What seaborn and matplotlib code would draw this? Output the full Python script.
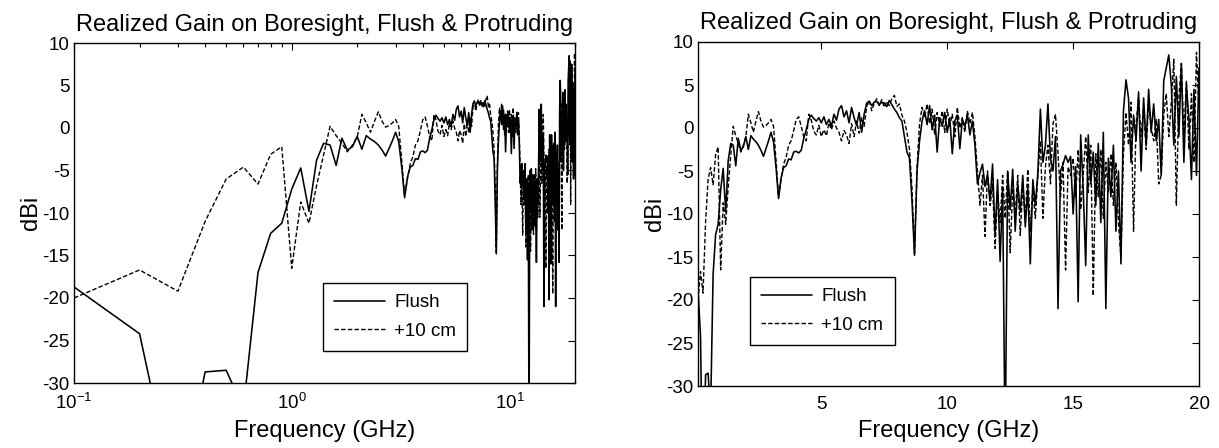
import matplotlib
matplotlib.use("Agg")
import matplotlib.pyplot as plt
import seaborn as sns
import pandas as pd

# ---------------- data ----------------
freq_ghz = [
    0.1, 0.2, 0.3, 0.4, 0.5, 0.6, 0.7, 0.8, 0.9, 1.0,
    1.1, 1.2, 1.3, 1.4, 1.5, 1.6, 1.7, 1.8, 1.9, 2.0,
    2.1, 2.2, 2.3, 2.4, 2.5, 2.6, 2.7, 2.8, 2.9, 3.0,
    3.1, 3.2, 3.3, 3.4, 3.5, 3.6, 3.7, 3.8, 3.9, 4.0,
    4.1, 4.2, 4.3, 4.4, 4.5, 4.6, 4.7, 4.8, 4.9, 5.0,
    5.1, 5.2, 5.3, 5.4, 5.5, 5.6, 5.7, 5.8, 5.9, 6.0,
    6.1, 6.2, 6.3, 6.4, 6.5, 6.6, 6.7, 6.8, 6.9, 7.0,
    7.1, 7.2, 7.3, 7.4, 7.5, 7.6, 7.7, 7.8, 7.9, 8.0,
    8.1, 8.2, 8.3, 8.4, 8.5, 8.6, 8.7, 8.8, 8.9, 9.0,
    9.1, 9.2, 9.3, 9.4, 9.5, 9.6, 9.7, 9.8, 9.9, 10.0,
    10.1, 10.2, 10.3, 10.4, 10.5, 10.6, 10.7, 10.8, 10.9, 11.0,
    11.1, 11.2, 11.3, 11.4, 11.5, 11.6, 11.7, 11.8, 11.9, 12.0,
    12.1, 12.2, 12.3, 12.4, 12.5, 12.6, 12.7, 12.8, 12.9, 13.0,
    13.1, 13.2, 13.3, 13.4, 13.5, 13.6, 13.7, 13.8, 13.9, 14.0,
    14.1, 14.2, 14.3, 14.4, 14.5, 14.6, 14.7, 14.8, 14.9, 15.0,
    15.1, 15.2, 15.3, 15.4, 15.5, 15.6, 15.7, 15.8, 15.9, 16.0,
    16.1, 16.2, 16.3, 16.4, 16.5, 16.6, 16.7, 16.8, 16.9, 17.0,
    17.1, 17.2, 17.3, 17.4, 17.5, 17.6, 17.7, 17.8, 17.9, 18.0,
    18.1, 18.2, 18.3, 18.4, 18.5, 18.6, 18.7, 18.8, 18.9, 19.0,
    19.1, 19.2, 19.3, 19.4, 19.5, 19.6, 19.7, 19.8, 19.9, 20.0,
]

gain_flush = [
    -18.7, -24.2, -45.0, -28.7, -28.5, -33.0, -17.0, -12.4, -11.2, -7.2,
    -4.7, -9.8, -3.8, -1.8, -2.0, -4.4, -1.2, -2.6, -2.2, -1.0,
    -2.5, -0.9, -1.3, -1.6, -2.0, -2.6, -3.3, -2.4, -1.5, -0.5,
    -1.6, -4.6, -8.2, -5.8, -4.6, -4.4, -3.6, -3.7, -2.8, -2.7,
    -2.9, -2.6, -1.2, -0.2, 1.0, 1.5, 1.1, 0.8, 1.2, 0.6,
    1.3, 0.4, 1.0, 0.2, 1.6, 0.9, 2.2, 2.6, 1.3, 2.0,
    0.6, 2.4, 1.2, 0.3, 1.8, -0.5, 1.6, 2.9, 3.1, 2.6,
    3.0, 3.1, 2.7, 3.0, 2.9, 2.5, 3.2, 2.7, 2.2, 1.8,
    1.2, 0.8, -1.0, -2.8, -3.5, -8.5, -14.8, -5.0, -1.5, 0.8,
    2.0, 0.4, 2.6, -0.2, 1.5, -2.8, 1.2, 0.2, 1.8, -0.5,
    1.2, -3.0, 0.8, 1.5, -2.4, 1.0, 0.2, 1.5, -0.8, 0.8,
    -2.0, -6.5, -5.2, -4.2, -6.8, -5.4, -8.5, -4.2, -12.5, -6.0,
    -15.5, -7.0, -38.0, -5.0, -9.5, -4.8, -12.0, -6.5, -9.8, -5.5,
    -11.5, -7.0, -15.8, -6.0, -9.0, -5.2, 2.2, -4.0, -2.0, 2.8,
    -3.5, -5.0, -1.0, -21.0, -5.0, -4.2, -3.2, -4.0, -3.3, -10.0,
    -4.5, -20.2, -0.8, -7.0, -16.0, -0.8, -6.5, -2.8, -9.0, -1.8,
    -11.0, -0.5, -21.0, -3.5, -8.0, -2.0, -12.0, -5.0, -15.8, 2.0,
    5.6, 3.5, -4.0, 1.5, -1.5, 4.2, -5.0, 3.5, -2.0, 4.5,
    -0.5, 2.8, -1.5, 1.0, -5.5, 5.5, 7.0, 8.5, 5.0, -2.0,
    6.0, -1.0, 7.5, -4.0, 5.0, 1.0, -6.0, 4.5, -5.5, 7.0,
]

gain_protruding = [
    -20.0, -16.7, -19.2, -11.0, -6.0, -4.6, -6.6, -3.1, -2.2, -16.5,
    -8.7, -11.2, -6.8, -3.2, 0.2, -0.9, -1.8, -2.8, -2.0, -1.0,
    1.6, 0.6, -0.5, 0.8, 1.9, 0.8, 0.1, 0.3, 0.6, 1.0,
    0.2, -3.8, -8.0, -6.0, -4.2, -3.4, -2.0, -1.5, -0.3, 1.0,
    1.3, 0.2, -1.0, -1.5, 1.6, 0.9, -0.4, -0.8, 0.3, -1.0,
    -0.2, -0.9, 0.6, -0.2, 0.8, 0.0, -0.5, -1.5, -0.3, -0.8,
    -1.8, 0.5, -1.0, 0.8, -0.6, 1.2, 0.2, 2.5, 3.2, 2.0,
    2.9, 3.4, 2.6, 3.3, 2.4, 3.1, 2.6, 3.4, 3.8, 2.5,
    2.8, 1.5, 0.8, -0.5, -2.5, -7.0, -14.6, -4.5, 0.5, 2.4,
    1.2, 2.8, 0.5, 2.2, -0.8, 1.8, 0.2, 2.0, -0.5, 2.2,
    0.2, 1.6, -1.0, 2.4, 0.0, 1.2, -0.5, 2.0, 0.5, 1.8,
    -1.0, -5.0, -9.0, -5.5, -12.6, -5.0, -9.0, -6.5, -14.0, -7.5,
    -11.0, -5.5, -10.5, -5.0, -14.5, -7.0, -10.0, -5.5, -12.5, -6.5,
    -10.5, -4.8, -12.0, -7.0, -10.5, -5.5, -1.5, -10.5, -4.5, -2.0,
    -6.5, 0.5, 1.6, -3.0, -8.0, -4.0, -16.5, -4.5, -5.5, -3.5,
    -8.0, -2.5, -9.5, -5.5, -1.0, -7.5, -2.0, -19.5, -3.0, -8.0,
    -2.5, -10.5, -4.0, -7.5, -3.0, -9.0, -4.0, -11.0, -15.0, -3.0,
    1.8, -2.0, 3.0, -12.0, 0.5, 3.5, -1.0, 2.5, -2.5, 3.0,
    0.0, -1.5, 1.0, -6.5, -5.5, 1.5, 4.0, -1.0, 3.0, 8.0,
    -9.0, 3.5, 7.5, -1.0, 5.5, -2.5, 4.0, -4.0, 8.8, 2.0,
]

series_labels = ["Flush", "+10 cm"]
title_text = "Realized Gain on Boresight, Flush & Protruding"
x_label = "Frequency (GHz)"
y_label = "dBi"
y_ticks = [-30, -25, -20, -15, -10, -5, 0, 5, 10]
lin_x_ticks = [5, 10, 15, 20]

# ---------------- styling ----------------
sns.set_style("white")
plt.rcParams["font.family"] = ["Liberation Sans", "DejaVu Sans"]
plt.rcParams["mathtext.fontset"] = "custom"
plt.rcParams["mathtext.rm"] = "Liberation Sans"
plt.rcParams["mathtext.it"] = "Liberation Sans"
plt.rcParams["axes.unicode_minus"] = False
plt.rcParams["text.color"] = "black"
plt.rcParams["axes.labelcolor"] = "black"
plt.rcParams["xtick.color"] = "black"
plt.rcParams["ytick.color"] = "black"

W, H = 1219, 448
fig = plt.figure(figsize=(W / 100, H / 100), dpi=100)
fig.patch.set_facecolor("white")

ax_log = fig.add_axes([74 / W, 1 - 383 / H, (575 - 74) / W, (383 - 43) / H])
ax_lin = fig.add_axes([698 / W, 1 - 386 / H, (1199 - 698) / W, (386 - 42) / H])

df = pd.DataFrame({
    "freq": freq_ghz * 2,
    "gain": gain_flush + gain_protruding,
    "series": [series_labels[0]] * len(freq_ghz) + [series_labels[1]] * len(freq_ghz),
})

for ax, legend_anchor in [(ax_log, (0.497, 0.294)), (ax_lin, (0.104, 0.317))]:
    sub_f = df[df["series"] == series_labels[0]]
    sub_p = df[df["series"] == series_labels[1]]
    sns.lineplot(data=sub_f, x="freq", y="gain", ax=ax, color="black",
                 linewidth=1.15, estimator=None, sort=False, label=series_labels[0])
    sns.lineplot(data=sub_p, x="freq", y="gain", ax=ax, color="black",
                 linewidth=1.0, linestyle=(0, (3.2, 1.6)), estimator=None,
                 sort=False, label=series_labels[1])
    ax.set_ylim(-30, 10)
    ax.set_yticks(y_ticks)
    ax.set_title(title_text, fontsize=17, pad=9, color="black")
    ax.set_xlabel(x_label, fontsize=17, labelpad=5)
    ax.set_ylabel(y_label, fontsize=17, labelpad=0)
    ax.tick_params(axis="both", which="both", direction="in", top=True, right=True,
                   labelsize=13.5, width=0.8, colors="black")
    ax.tick_params(axis="x", which="both", pad=7)
    ax.tick_params(axis="y", which="both", pad=3)
    ax.tick_params(which="major", length=5)
    ax.tick_params(which="minor", length=3)
    for sp in ax.spines.values():
        sp.set_visible(True)
        sp.set_color("black")
        sp.set_linewidth(1.0)
    leg = ax.legend(loc="upper left", bbox_to_anchor=legend_anchor, borderaxespad=0,
                    frameon=True, fancybox=False, edgecolor="black", fontsize=13.5,
                    handlelength=2.7, handletextpad=0.5, borderpad=0.6,
                    labelspacing=0.6, framealpha=1)
    leg.get_frame().set_linewidth(1.0)
    for t in leg.get_texts():
        t.set_color("black")

ax_log.set_xscale("log")
ax_log.set_xlim(0.1, 20)
ax_lin.set_xlim(0.1, 20)
ax_lin.set_xticks(lin_x_ticks)
ax_lin.set_xticklabels([str(t) for t in lin_x_ticks])

fig.savefig("out.png", dpi=100, facecolor="white")
